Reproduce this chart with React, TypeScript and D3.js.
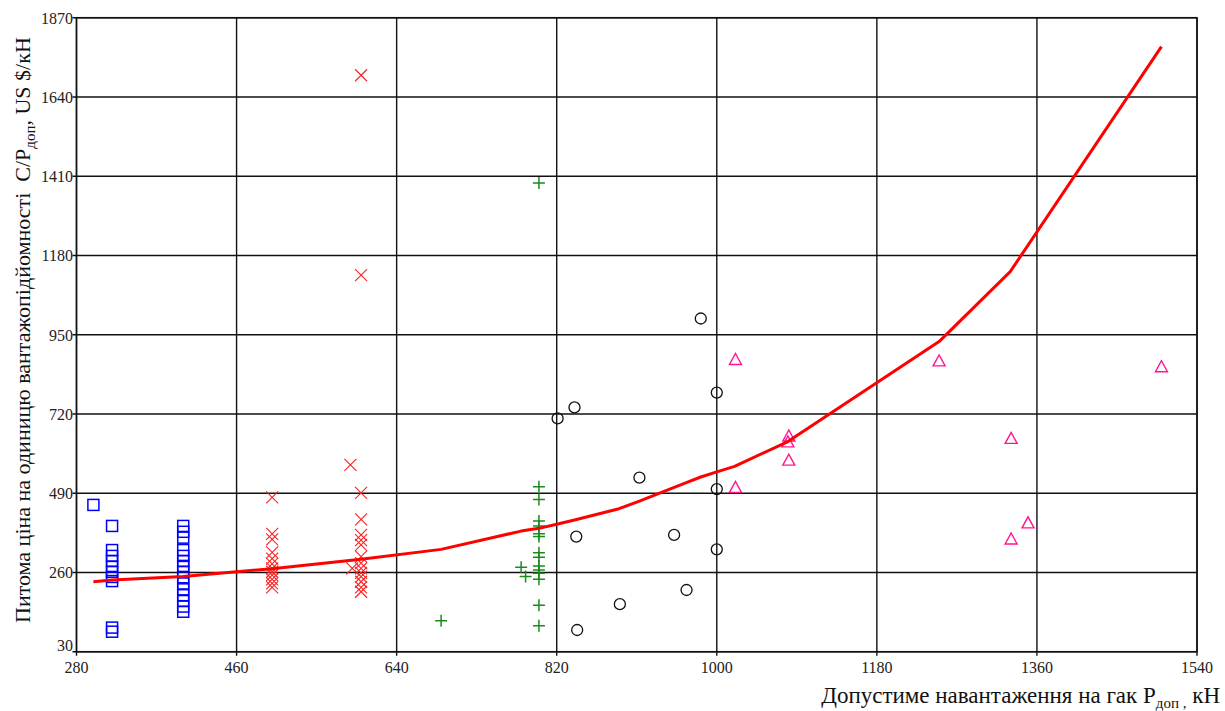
import React from 'react';
import * as d3 from 'd3';

// tick labels
const xTicks = [280, 460, 640, 820, 1000, 1180, 1360, 1540];
const yTicks = [30, 260, 490, 720, 950, 1180, 1410, 1640, 1870];

// blue squares
const squareX = [299, 320, 320, 320, 320, 320, 320, 320, 320, 320, 320,
  400, 400, 400, 400, 400, 400, 400, 400, 400, 400, 400, 400, 400, 400, 400];
const squareY = [456, 395, 325, 308, 293, 277, 262, 247, 235, 100, 88,
  395, 378, 361, 325, 308, 293, 279, 262, 246, 228, 211, 194, 177, 161, 146];

// red crosses
const crossX = [500, 500, 500, 500, 500, 500, 500, 500, 500, 500, 500, 500,
  600, 600, 600, 600, 600, 600, 600, 600, 600, 600, 600, 600, 600, 600, 600, 590, 588];
const crossY = [478, 372, 356, 318, 300, 285, 272, 262, 252, 240, 228, 217,
  1703, 1123, 491, 414, 369, 354, 340, 306, 287, 272, 259, 248, 233, 217, 204, 272, 572];

// green pluses
const plusX = [800, 800, 800, 800, 800, 800, 800, 800, 800, 800, 800, 800, 800, 800, 800, 780, 785, 690];
const plusY = [1390, 509, 472, 409, 395, 372, 364, 317, 304, 279, 267, 258, 240, 165, 105, 275, 248, 120];

// black circles
const circleX = [982, 1000, 840, 821, 913, 1000, 842, 952, 1000, 966, 891, 843];
const circleY = [997, 782, 739, 707, 535, 502, 364, 369, 327, 209, 168, 93];

// magenta triangles
const triX = [1021, 1250, 1500, 1081, 1080, 1081, 1331, 1021, 1350, 1331];
const triY = [878, 874, 857, 656, 639, 586, 649, 507, 404, 357];

// fitted curve
const curveX = [299, 320, 400, 500, 600, 690, 780, 800, 820, 840, 890, 913, 950, 965, 982, 1000, 1020, 1080, 1250, 1330, 1500];
const curveY = [233, 238, 248, 271, 298, 327, 380, 388, 400, 412, 445, 467, 505, 520, 537, 552, 568, 640, 930, 1133, 1786];

const W = 1225;
const H = 711;
const left = 76.5, right = 1197, top = 17.7, bottom = 651.7;

export default function App() {
  const x = d3.scaleLinear().domain([280, 1540]).range([left, right]);
  const y = d3.scaleLinear().domain([30, 1870]).range([bottom, top]);

  const line = d3.line<number>()
    .x(i => x(curveX[i]))
    .y(i => y(curveY[i]));
  const curvePath = line(d3.range(curveX.length)) || '';

  const serif = { fontFamily: "'Liberation Serif', serif" };
  const s = 5.5;

  return (
    <div style={{ position: 'absolute', left: 0, top: 0 }}>
      <svg width={W} height={H} style={{ display: 'block', background: '#fff' }}>
        {/* grid */}
        {xTicks.map(t => (
          <line key={'gx' + t} x1={x(t)} x2={x(t)} y1={top} y2={bottom + 4} stroke="#111" strokeWidth={1.4} />
        ))}
        {yTicks.map(t => (
          <line key={'gy' + t} x1={left - 4} x2={right} y1={y(t)} y2={y(t)} stroke="#111" strokeWidth={1.4} />
        ))}
        <rect x={left} y={top} width={right - left} height={bottom - top} fill="none" stroke="#111" strokeWidth={1.5} />

        {/* tick labels */}
        {xTicks.map(t => (
          <text key={'lx' + t} x={x(t)} y={673} textAnchor="middle" style={serif} fontSize={16} fill="#222">{t}</text>
        ))}
        {yTicks.map((t, i) => (
          <text key={'ly' + t} x={73} y={y(t) + (i === 0 ? -1 : 6)} textAnchor="end" style={serif} fontSize={16} fill="#222">{t}</text>
        ))}

        {/* markers */}
        {squareX.map((v, i) => (
          <rect key={'sq' + i} x={x(v) - s} y={y(squareY[i]) - s} width={2 * s} height={2 * s}
            fill="none" stroke="#0000ff" strokeWidth={1.5} />
        ))}
        {crossX.map((v, i) => {
          const cx = x(v), cy = y(crossY[i]);
          return (
            <path key={'cr' + i} d={`M${cx - 6},${cy - 6}L${cx + 6},${cy + 6}M${cx - 6},${cy + 6}L${cx + 6},${cy - 6}`}
              stroke="#ff2020" strokeWidth={1.1} fill="none" />
          );
        })}
        {plusX.map((v, i) => {
          const cx = x(v), cy = y(plusY[i]);
          return (
            <path key={'pl' + i} d={`M${cx - 6},${cy}L${cx + 6},${cy}M${cx},${cy - 6}L${cx},${cy + 6}`}
              stroke="#1a8c1a" strokeWidth={1.5} fill="none" />
          );
        })}
        {circleX.map((v, i) => (
          <circle key={'ci' + i} cx={x(v)} cy={y(circleY[i])} r={5.5} fill="none" stroke="#111" strokeWidth={1.3} />
        ))}
        {triX.map((v, i) => {
          const cx = x(v), cy = y(triY[i]);
          return (
            <path key={'tr' + i} d={`M${cx - 6},${cy + 5}L${cx + 6},${cy + 5}L${cx},${cy - 6}Z`}
              stroke="#ff1493" strokeWidth={1.4} fill="none" />
          );
        })}

        {/* fitted curve */}
        <path d={curvePath} fill="none" stroke="#ff0000" strokeWidth={3} strokeLinejoin="round" />

        {/* axis titles */}
        <text x={1220} y={703} textAnchor="end" style={serif} fontSize={23} fill="#111">
          Допустиме навантаження на гак P<tspan fontSize={15} dy={5}>доп ,</tspan><tspan dy={-5}> кН</tspan>
        </text>
        <text transform="translate(30,623) rotate(-90)" style={{ ...serif, whiteSpace: 'pre' }} fontSize={22} fill="#111">
          Питома ціна на одиницю вантажопідйомності  C/P<tspan fontSize={15} dy={5}>доп</tspan><tspan dy={-5}>, US $/кН</tspan>
        </text>
      </svg>
    </div>
  );
}
